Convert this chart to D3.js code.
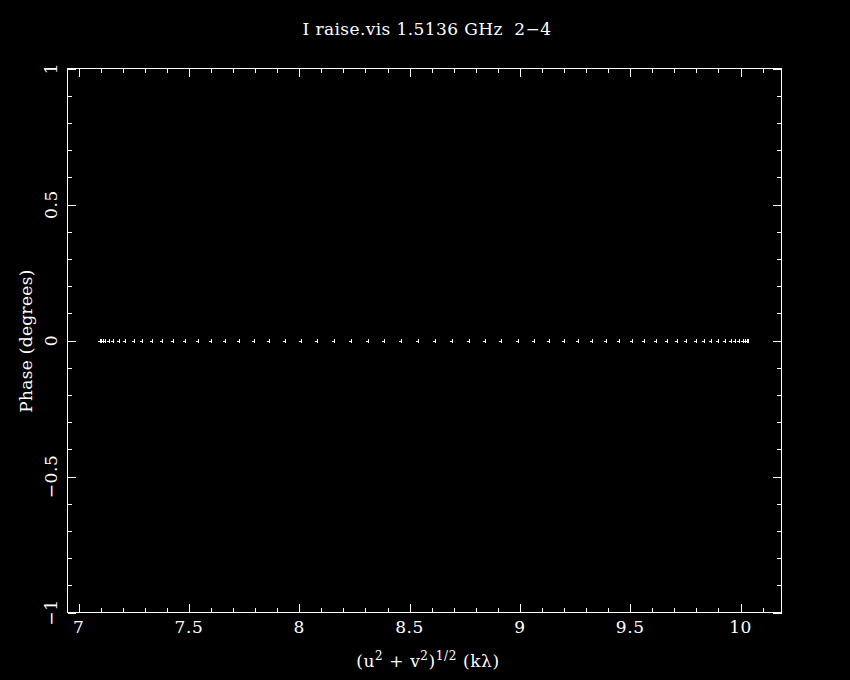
<!DOCTYPE html>
<html>
<head>
<meta charset="utf-8">
<script src="https://cdn.jsdelivr.net/npm/d3@7"></script>
<style>
  html, body { margin: 0; padding: 0; background: #000; }
  svg { display: block; }
  text { font-family: "DejaVu Serif", "Liberation Serif", serif; fill: #fff; white-space: pre; }
</style>
</head>
<body>
<svg id="chart" width="850" height="680"></svg>
<script>
// ---- data ----
const uvdist = [7.096, 7.102, 7.109, 7.121, 7.140, 7.158, 7.183, 7.211, 7.249, 7.287,
  7.332, 7.378, 7.428, 7.480, 7.539, 7.600, 7.662, 7.727, 7.793, 7.863,
  7.934, 8.006, 8.081, 8.156, 8.235, 8.310, 8.386, 8.463, 8.539, 8.617,
  8.693, 8.768, 8.844, 8.916, 8.990, 9.063, 9.134, 9.199, 9.263, 9.328,
  9.388, 9.449, 9.506, 9.562, 9.615, 9.665, 9.710, 9.754, 9.796, 9.834,
  9.868, 9.899, 9.929, 9.955, 9.975, 9.993, 10.009, 10.019, 10.028, 10.035];
const phase = uvdist.map(() => 0);
const xMajorTicks = [7, 7.5, 8, 8.5, 9, 9.5, 10];
const xTickLabels = ["7", "7.5", "8", "8.5", "9", "9.5", "10"];
const yMajorTicks = [-1, -0.5, 0, 0.5, 1];
const yTickLabels = ["\u22121", "\u22120.5", "0", "0.5", "1"];
const titleText = "I raise.vis 1.5136 GHz  2\u22124";
const yTitle = "Phase (degrees)";

// ---- layout ----
const L = 67.5, R = 781.5, T = 68.5, B = 612.5;
const x = d3.scaleLinear().domain([6.9497, 10.1856]).range([L, R]);
const y = d3.scaleLinear().domain([-1, 1]).range([B, T]);

const svg = d3.select("#chart");
svg.append("rect").attr("width", 850).attr("height", 680).attr("fill", "#000");

const g = svg.append("g").attr("shape-rendering", "crispEdges")
  .attr("stroke", "#fff").attr("stroke-width", 1).attr("fill", "none");

// frame
g.append("rect").attr("x", L).attr("y", T).attr("width", R - L).attr("height", B - T);

const MAJ = 8.5, MIN = 4.5;
const xMinor = d3.range(7, 10.19, 0.1).map(v => +v.toFixed(2));
const yMinor = d3.range(-1, 1.001, 0.1).map(v => +v.toFixed(2));
const isMajor = v => Math.abs(v * 2 - Math.round(v * 2)) < 1e-6;

// x ticks (bottom and top)
xMinor.forEach(v => {
  const len = isMajor(v) ? MAJ : MIN;
  const px = Math.round(x(v)) + 0.5;
  g.append("line").attr("x1", px).attr("x2", px).attr("y1", B).attr("y2", B - len);
  g.append("line").attr("x1", px).attr("x2", px).attr("y1", T).attr("y2", T + len);
});
// y ticks (left and right)
yMinor.forEach(v => {
  const len = isMajor(v) ? MAJ : MIN;
  const py = Math.round(y(v)) + 0.5;
  g.append("line").attr("y1", py).attr("y2", py).attr("x1", L).attr("x2", L + len);
  g.append("line").attr("y1", py).attr("y2", py).attr("x1", R).attr("x2", R - len);
});

// x tick labels
svg.append("g").selectAll("text").data(xMajorTicks).join("text")
  .attr("x", d => x(d)).attr("y", 633)
  .attr("text-anchor", "middle").attr("font-size", 17).attr("letter-spacing", 0.6)
  .text((d, i) => xTickLabels[i]);

// y tick labels (rotated)
svg.append("g").selectAll("text").data(yMajorTicks).join("text")
  .attr("transform", d => `translate(57,${y(d)}) rotate(-90)`)
  .attr("text-anchor", "middle").attr("font-size", 17).attr("letter-spacing", 0.6)
  .text((d, i) => yTickLabels[i]);

// title
svg.append("text").attr("x", 427).attr("y", 35).attr("text-anchor", "middle")
  .attr("font-size", 17).attr("letter-spacing", 0.4).text(titleText);

// y axis title
svg.append("text").attr("transform", `translate(32,341) rotate(-90)`)
  .attr("text-anchor", "middle").attr("font-size", 17).attr("letter-spacing", 0.3).text(yTitle);

// x axis title with superscripts
const xt = svg.append("text").attr("x", 428).attr("y", 667).attr("text-anchor", "middle")
  .attr("font-size", 17).attr("letter-spacing", 0.6);
xt.append("tspan").text("(u");
xt.append("tspan").attr("font-size", 12).attr("dy", -7).text("2");
xt.append("tspan").attr("dy", 7).text(" + v");
xt.append("tspan").attr("font-size", 12).attr("dy", -7).text("2");
xt.append("tspan").attr("dy", 7).text(")");
xt.append("tspan").attr("font-size", 12).attr("dy", -7).text("1/2");
xt.append("tspan").attr("dy", 7).text(" (k\u03bb)");

// data points
const pts = svg.append("g").attr("fill", "#fff").attr("shape-rendering", "crispEdges");
uvdist.forEach((d, i) => {
  const px = Math.round(x(d)), py = Math.round(y(phase[i]));
  pts.append("rect").attr("x", px).attr("y", py - 2).attr("width", 1).attr("height", 4);
  pts.append("rect").attr("x", px - 2).attr("y", py).attr("width", 2).attr("height", 1);
});
</script>
</body>
</html>
